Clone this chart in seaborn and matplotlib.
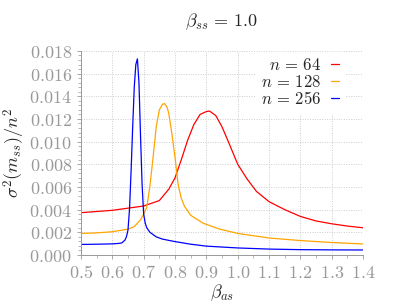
import numpy as np
import pandas as pd
import seaborn as sns
import matplotlib
matplotlib.use("Agg")
import matplotlib.pyplot as plt
from matplotlib.ticker import FuncFormatter, MultipleLocator

# values
x_64 = [0.50, 0.60, 0.70, 0.75, 0.78, 0.80, 0.82, 0.84, 0.86, 0.88, 0.90, 0.91,
        0.93, 0.95, 0.97, 1.00, 1.03, 1.06, 1.10, 1.15, 1.20, 1.25, 1.30, 1.35, 1.40]
y_64 = [0.00373, 0.00394, 0.00432, 0.0048, 0.0058, 0.0068, 0.0084, 0.0101, 0.0115,
        0.0124, 0.01265, 0.0127, 0.0123, 0.0113, 0.0100, 0.0080, 0.0067, 0.0056,
        0.0047, 0.0040, 0.0034, 0.0030, 0.00275, 0.00255, 0.0024]

x_128 = [0.50, 0.55, 0.60, 0.65, 0.67, 0.69, 0.70, 0.71, 0.72, 0.73, 0.74, 0.75,
         0.76, 0.767, 0.775, 0.78, 0.79, 0.80, 0.81, 0.82, 0.83, 0.85, 0.89, 0.94,
         1.00, 1.10, 1.20, 1.30, 1.40]
y_128 = [0.0019, 0.00195, 0.00205, 0.00228, 0.0025, 0.0031, 0.0036, 0.0042, 0.0061,
         0.0086, 0.0113, 0.0128, 0.0133, 0.01335, 0.0130, 0.0125, 0.0107, 0.0086,
         0.0062, 0.0050, 0.0043, 0.0035, 0.0028, 0.0023, 0.0019, 0.0015, 0.00127,
         0.0011, 0.00097]

x_256 = [0.50, 0.55, 0.60, 0.62, 0.63, 0.64, 0.645, 0.65, 0.655, 0.66, 0.665, 0.67,
         0.675, 0.68, 0.685, 0.69, 0.695, 0.70, 0.705, 0.71, 0.72, 0.74, 0.76, 0.80,
         0.85, 0.90, 1.00, 1.10, 1.20, 1.30, 1.40]
y_256 = [0.00093, 0.00095, 0.00098, 0.00102, 0.00106, 0.0013, 0.0016, 0.0022, 0.0041,
         0.0075, 0.0113, 0.0148, 0.0168, 0.0173, 0.0152, 0.0105, 0.0062, 0.0036,
         0.0028, 0.0024, 0.0020, 0.0016, 0.0014, 0.00118, 0.00095, 0.00078, 0.00062,
         0.00052, 0.00047, 0.00045, 0.00044]

labels = [r"$n\,=\,64$", r"$n\,=\,128$", r"$n\,=\,256$"]
colors = ["#ff0000", "#ffa500", "#0000ff"]
x_ticks = [0.5, 0.6, 0.7, 0.8, 0.9, 1.0, 1.1, 1.2, 1.3, 1.4]
y_ticks = [0.000, 0.002, 0.004, 0.006, 0.008, 0.010, 0.012, 0.014, 0.016, 0.018]

df = pd.concat([
    pd.DataFrame({"beta": x_64, "var": y_64, "n": labels[0]}),
    pd.DataFrame({"beta": x_128, "var": y_128, "n": labels[1]}),
    pd.DataFrame({"beta": x_256, "var": y_256, "n": labels[2]}),
])

sns.set_style("ticks")
plt.rcParams["mathtext.fontset"] = "cm"
plt.rcParams["font.family"] = ["DejaVu Serif"]

gray = "#999999"
fig = plt.figure(figsize=(3.93, 3.05), dpi=100)
ax = fig.add_axes([0.206, 0.164, 0.718, 0.669])

sns.lineplot(data=df, x="beta", y="var", hue="n", palette=colors,
             hue_order=labels, linewidth=0.9, ax=ax, legend=False)

ax.set_xlim(0.5, 1.4)
ax.set_ylim(0.0, 0.018)
ax.set_xticks(x_ticks)
ax.set_yticks(y_ticks)
ax.xaxis.set_minor_locator(MultipleLocator(0.05))
ax.yaxis.set_minor_locator(MultipleLocator(0.0004))
ax.xaxis.set_major_formatter(FuncFormatter(lambda v, p: f"${v:.1f}$"))
ax.yaxis.set_major_formatter(FuncFormatter(lambda v, p: f"${v:.3f}$"))
ax.tick_params(which="both", colors=gray, labelcolor=gray, labelsize=13,
               direction="out")
ax.tick_params(which="major", length=3, width=0.6)
ax.tick_params(which="minor", length=2, width=0.5)
ax.grid(True, which="major", color="#cccccc", linestyle=(0, (1, 1.5)), linewidth=0.7)

for side in ["top", "right"]:
    ax.spines[side].set_visible(False)
for side in ["left", "bottom"]:
    ax.spines[side].set_color(gray)
    ax.spines[side].set_linewidth(0.7)

ax.set_xlabel(r"$\beta_{as}$", fontsize=13, labelpad=0)
ax.set_ylabel(r"$\sigma^2(m_{ss})/n^2$", fontsize=13)
ax.yaxis.set_label_coords(-0.19, 0.5)
ax.set_title(r"$\beta_{ss}\,=\,1.0$", fontsize=13, pad=18)

handles = [plt.Line2D([], [], color=c, linewidth=0.9) for c in colors]
leg = ax.legend(handles, labels, loc="upper right", bbox_to_anchor=(0.96, 1.035),
                frameon=True, fontsize=12, markerfirst=False, handlelength=0.45,
                handletextpad=0.6, labelspacing=0.0, borderpad=0.3,
                fancybox=False)
leg.get_frame().set_edgecolor("white")
leg.get_frame().set_facecolor("white")
leg.get_frame().set_alpha(1.0)

fig.savefig("out.png", dpi=100)
